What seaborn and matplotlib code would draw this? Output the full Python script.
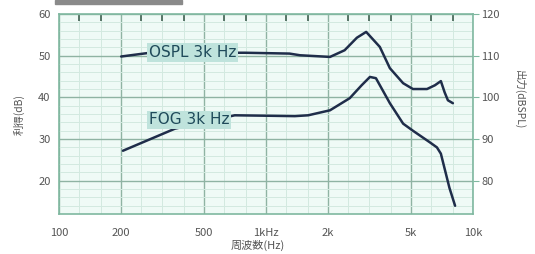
import numpy as np
import pandas as pd
import seaborn as sns
import matplotlib.pyplot as plt
from matplotlib.patches import Rectangle
from matplotlib.ticker import FixedLocator, NullFormatter

# データ (周波数 Hz, 利得 dB)
ospl_freq = [200, 266, 500, 792, 1300, 1460, 2040, 2400, 2750, 3050, 3550, 3970, 4600, 5130, 6000, 6550, 7000, 7300, 7570, 8000]
ospl_gain = [49.8, 50.6, 50.7, 50.7, 50.5, 50.1, 49.7, 51.3, 54.3, 55.7, 52.1, 47.0, 43.4, 42.0, 42.0, 42.9, 43.9, 41.2, 39.3, 38.6]

fog_freq = [204, 364, 707, 1000, 1380, 1600, 2040, 2540, 2900, 3180, 3400, 3970, 4600, 5130, 6200, 6700, 7000, 7700, 8200]
fog_gain = [27.2, 32.5, 35.7, 35.6, 35.5, 35.7, 36.9, 39.8, 42.9, 44.9, 44.6, 38.6, 33.7, 32.0, 29.2, 28.0, 26.5, 18.3, 14.0]

x_ticks = [100, 200, 500, 1000, 2000, 5000, 10000]
x_labels = ["100", "200", "500", "1kHz", "2k", "5k", "10k"]
y_ticks = [20, 30, 40, 50, 60]
y2_ticks = [80, 90, 100, 110, 120]
third_oct = [125, 160, 250, 315, 400, 630, 800, 1250, 1600, 2500, 3150, 4000, 6300, 8000]

df = pd.concat([
    pd.DataFrame({"freq": ospl_freq, "gain": ospl_gain, "curve": "OSPL"}),
    pd.DataFrame({"freq": fog_freq, "gain": fog_gain, "curve": "FOG"}),
])

sns.set_style("white")
plt.rcParams['font.family'] = ['Noto Sans CJK JP', 'DejaVu Sans']

fig = plt.figure(figsize=(5.35, 2.54), dpi=100)
ax = fig.add_axes([0.110, 0.157, 0.774, 0.788])
ax.set_facecolor("#effaf6")

line_col = "#1f2d4a"
sns.lineplot(data=df, x="freq", y="gain", hue="curve", palette=[line_col, line_col],
             legend=False, ax=ax, linewidth=1.8, sort=False)

ax.set_xscale("log")
ax.set_xlim(100, 10000)
ax.set_ylim(12, 60)

ax.xaxis.set_major_locator(FixedLocator(x_ticks))
ax.set_xticklabels(x_labels)
ax.xaxis.set_minor_locator(FixedLocator(third_oct))
ax.xaxis.set_minor_formatter(NullFormatter())
ax.set_yticks(y_ticks)
ax.yaxis.set_minor_locator(FixedLocator(np.arange(14, 60, 2)))

ax.grid(which="major", color="#8fb3a3", linewidth=1.0)
ax.grid(which="minor", color="#d3e9e0", linewidth=0.7)
ax.tick_params(which="both", length=0, labelsize=8, labelcolor="#555555")
ax.tick_params(axis="x", which="major", pad=10)
ax.tick_params(axis="y", which="major", pad=6)
# 上側の1/3オクターブ目盛
ax.tick_params(axis="x", which="minor", bottom=False, top=True, direction="in",
               length=5, width=1.2, color="#3f5f50")
for s in ax.spines.values():
    s.set_color("#7fb8a0")
    s.set_linewidth(1.2)

# 右軸 出力
ax2 = ax.twinx()
ax2.set_ylim(72, 120)
ax2.set_yticks(y2_ticks)
ax2.tick_params(length=4, color="#7fb8a0", labelsize=8, labelcolor="#555555", pad=2)
for s in ax2.spines.values():
    s.set_visible(False)

ax.set_xlabel("周波数(Hz)", fontsize=8, color="#555555")
ax.xaxis.set_label_coords(0.48, -0.13)
ax.set_ylabel("利得(dB)", fontsize=7.5, color="#555555", labelpad=10)
ax2.set_ylabel("出力(dBSPL)", fontsize=7.5, color="#555555", rotation=270, va="center")
ax2.yaxis.set_label_coords(1.113, 0.57)

box = dict(boxstyle="square,pad=0.12", facecolor="#bfe3dc", edgecolor="none")
ax.text(272, 50.7, "OSPL 3k Hz", fontsize=11, color="#1f4a5a", va="center", bbox=box,
        family=["DejaVu Sans"])
ax.text(272, 34.6, "FOG 3k Hz", fontsize=11, color="#1f4a5a", va="center", bbox=box,
        family=["DejaVu Sans"])

fig.patches.append(Rectangle((55 / 535, 1 - 4 / 254), 127 / 535, 4 / 254,
                             transform=fig.transFigure, color="#8a8a8a"))

fig.savefig("out.png", dpi=100)
